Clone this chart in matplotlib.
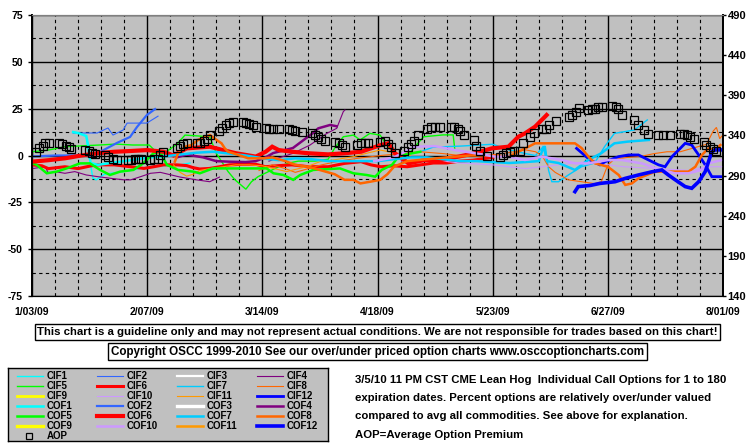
import matplotlib
matplotlib.use('Agg')
import matplotlib.pyplot as plt
from matplotlib.ticker import MultipleLocator, FixedLocator
from matplotlib.lines import Line2D
import numpy as np

nan = float('nan')

# x axis: days after 1/03/09
date_ticks = [0, 35, 70, 105, 140, 175, 210]
date_labels = ['1/03/09', '2/07/09', '3/14/09', '4/18/09', '5/23/09', '6/27/09', '8/01/09']
right_ticks = [140, 190, 240, 290, 340, 390, 440, 490]

# percent over/under valued (left axis), (day, value)
cif1 = [(16.5, 10), (17.5, -2), (18.5, -12), (19.5, -13), (22, -10), (26, -9), (30, -8),
        (34, -6.5), (40, -5.5), (45, -5), (48, -4)]
cif2 = [(12.5, 12), (19.8, 12), (23.1, 14.7), (24.6, 10.9), (27.7, 13.6), (28.9, 17.3),
        (34.9, 17.3), (38.3, 21)]
cif3 = []
cif4 = [(0, -7), (4, -6), (5, -9.5), (7, -8.6), (10, -9.5), (13, -8.6), (16.5, -10.4), (20, -11.3),
        (24, -12.2), (28, -13), (30, -13), (33, -11.3), (36, -9.5), (39, -9), (45, -11.5), (50, -13),
        (54, -14), (57, -11.5), (nan, nan), (72, -3), (79.4, 1.2), (84.5, 5.6), (89.6, 11.8),
        (92.6, 14.5), (94.6, 23.4), (95.1, 24.3)]
cif5 = [(0, 2), (5, 2.9), (10, 4.7), (20.5, 5.6), (25.5, 6.1), (30.6, 5.6), (35.6, 5.6), (37.7, 2),
        (40, 1), (44, 6), (46.5, 10.9), (54, 10), (56, 1.2), (59.6, -8.6), (61.7, -13), (65, -18),
        (66.7, -14), (68.7, -11.3), (70.8, -9.5), (75, -6), (78, -4), (81, -3), (86, -3), (90, -2),
        (92, 4), (94.6, 10), (97.7, 10.9), (99.7, 8.3), (102.7, 11.8), (105.8, 10.9), (108, 5),
        (111, 0), (113, -3), (116, 4), (119, 10), (125, 11), (128, 11), (128.5, 3)]
cif6 = [(0, -5), (3, -5.5), (5, -7), (10, -6), (14, -7), (18, -5.5), (20, -5), (25, -5), (30, -6),
        (34, -6.9), (37, -6), (40, -5), (44, -5), (47, -5.4), (49, -6.5), (51, -7.2), (54, -6.9),
        (57, -6), (60, -5), (64, -4.7), (68, -4.7), (71, -6), (75, -5.4), (79, -5), (84, -6),
        (90, -6), (95, -4.2), (100, -3.3), (103, -5), (106, -6), (110, -5.5), (114, -6), (118, -5),
        (122, -4), (126, -4), (130, -3), (134, -2.5), (138, -1.5), (140, -1)]
cif7 = [(118, 2), (122, 4.5), (130, 5), (135, 5.5), (140, 6), (145, 3), (150, 1), (153, 0), (155, 4),
        (156, 5), (157, -8), (158, -14), (160, -14), (163, -10.4), (167, -6), (171, -4), (174, 4.7),
        (177, 11.8), (183, 13.6), (185, 16.3), (187, 19)]
cif8 = [(69, -8), (73, -5), (77, -7), (80, -9), (84, -7), (88, -5), (92, -3.5), (95, -2.5), (99, -1.5),
        (106, 0), (112, 1), (118, 2), (125, 1), (130, 0), (138, 0), (143, 1), (150, 3), (153, 2),
        (155, 0), (157, -6), (159, -9), (163, -13), (167, -14), (171, -15), (173, -14), (175, -5),
        (177, -2), (181, -1), (185, -0.5), (189, 1), (193, 2), (197, 2), (201, 4), (205, 6), (207, 13),
        (208, 15), (209, 9), (210, 11)]
cif9 = []
cif10 = [(112, -3), (120, -2), (130, -4), (140, -5), (145, -6), (150, -7), (155, -6), (160, -5),
         (165, -4), (170, -3), (175, -5), (180, -6), (185, -6.5), (190, -7), (195, -7.5), (200, -8),
         (205, -6), (210, -6)]
cif11 = [(43, -5), (45, -9), (47, -11), (49, -10), (51, -8), (54, -7), (58, -6), (62, -5), (66, -5),
         (70, -5.5), (73.4, -6.9), (77.4, -8.6), (79.4, -7.7), (83.5, -6), (87.5, -3.3), (91.6, -2.4),
         (97.7, -0.6), (101.7, 1.2), (105.8, 2.9), (110, 1.5), (115, 0)]
cif12 = [(165.5, 3.8), (169.6, -2.4), (172.6, -5), (174.2, -3.3), (178.3, -0.6), (181.3, 0.3),
         (184.3, 0.3), (187.4, -2.4), (190.4, -5), (192.4, -6), (194.5, -0.6), (196.5, 2.9),
         (198.5, 6.5), (200.5, 5.6), (202.6, 0.3), (204.6, -5), (206.6, -11.3), (208.6, -11.3),
         (210, -11.3)]

cof1 = [(12.5, 12.5), (14, 12), (16.5, 10.4), (17.2, 4), (17.8, -4), (20, -5), (24, -4), (28, -3),
        (32, -2), (36, -1), (40, -0.5)]
cof2 = [(0, -0.5), (7, 0), (14, 0), (17.6, -0.3), (20.7, 1.9), (25.8, 6.7), (29.8, 9.9), (31.9, 15.2),
        (34.9, 21.6), (37.4, 24.8)]
cof3 = []
cof4 = [(44, -1), (47, 0.5), (52, -1), (56, -3), (60, -3.3), (65, -3.5), (68, -3), (71, -1),
        (73.3, 1.3), (79.3, 4), (85.4, 12), (87, 14.5), (90.6, 16.3), (92.6, 15.6)]
cof5 = [(0, -4), (1.4, -5), (4.5, -9.5), (7.5, -8.6), (10.5, -6.9), (14.6, -4.2), (17.6, -4.2),
        (20.7, -7.7), (23.7, -10.4), (26.8, -8.6), (30.8, -7.7), (33.8, -4.2), (36.9, 1.2),
        (38.9, 2), (41, -5), (44.4, -7.7), (49, -8.6), (51, -9.5), (55, -6.9), (61, -6.9), (67, -6.9),
        (71.3, -6.9), (73.4, -9.5), (76.4, -10.4), (79.4, -13), (81.5, -10.4), (85.5, -7.7),
        (93.6, -6.9), (97.7, -9.5), (101.7, -10.4), (104.3, -11.3), (106.3, -7.7), (109.4, -5),
        (111.4, -0.6), (113.4, 0.5), (118, 2)]
cof6 = [(0, -3.3), (5, -2.5), (10, -1.5), (15, 0), (20, 1.2), (25, 2), (30, 2.4), (35, 2.9), (40, 2),
        (43, 0), (47, 3.8), (54, 4.7), (58, 2.9), (62, 1.2), (68, -0.6), (71, 2), (73, 4.7), (75, 2.9),
        (79, 2), (84, 1.2), (90, 0.6), (95, 1.2), (100, 2), (103, 3.8), (106, 5.6), (108.3, 6.5),
        (110.3, 1.2), (114.4, -4.2), (119.4, -2.4), (124.5, -2.4), (129.6, -0.6), (134.6, 1.2),
        (139.7, 3.8), (144.8, 4.7), (147.8, 10), (149.8, 11.8), (152.9, 15.4), (155.9, 20.7),
        (156.4, 21.6)]
cof7 = [(40, -0.5), (45, 0.5), (50, 1.5), (55, 2), (60, 1), (65, 0), (70, -1.5), (75, -2.5), (80, -1.5),
        (85, -2), (90, -3), (95, -3), (100, -3), (105, -3), (110, -2), (115, -1), (120, -1), (125, -2),
        (130, -3), (135, -3), (140, -3.5), (145, -4), (150, -3.5), (154, -3), (155.5, 5), (156.5, -3),
        (160, -4), (165, -7.7), (169, -2.4), (173, 1.2), (177, 6.5), (181, 7.4), (187.5, 8.3)]
cof8 = [(43.4, -3.3), (44.4, 1.2), (46.5, 4.7), (48.5, 5.6), (50.5, 8.3), (52.5, 10), (54.1, 10.9),
        (56.1, 8.3), (57.6, 6.5), (58.6, 3.8), (59.6, 2), (62.7, 0.3), (65.7, -1.5), (70.8, -1.5),
        (73, -1), (77, -3), (80, -5), (84, -6), (88, -8), (92, -10), (95, -13), (97.7, -13),
        (99.8, -14.9), (102.8, -14), (105.8, -13), (108, -10), (110, -6), (114, -3), (120, -2),
        (126, -1), (133, 0), (139, 0), (144.8, -0.6), (150.9, 4.7), (152.9, 6.5), (160, 6.5),
        (165, 6.5), (167, 4), (169.1, -0.6), (171.1, -4.2), (175, -6), (178.3, -10.4), (180.3, -15.7),
        (182.3, -14.9), (184.3, -12.2), (189.4, -8.6), (196.5, -8.6), (199.5, -8.6), (201.6, -6),
        (203.6, 0.3), (205.6, 3.8), (207.6, 2.9), (209.2, 5.6)]
cof9 = []
cof10 = [(104, -3), (110, -1), (116.4, 4.7), (122.5, 5), (128.6, 2.9), (134.6, 1.2), (140.7, -0.6),
         (144.8, -0.6), (149.8, -2.4), (154.9, -0.6), (161, -2.4), (165, -4.2), (169.1, -4.2),
         (175.2, -2.4), (179.2, -2.4), (185.3, -4.2), (191.4, -7.7), (195.4, -9.5), (199.5, -9.5),
         (203.5, -7.7), (205.6, -4.2), (209.6, -2.4)]
cof11 = []
cof12 = [(165, -19.3), (166, -16.6), (169.6, -16), (172.6, -14.9), (175.7, -14.3), (177.2, -14),
         (180.3, -12.2), (184.3, -10.4), (188.4, -8.7), (191.4, -7.7), (193.4, -10.4), (195.5, -13),
         (198.5, -16.6), (200.5, -17.5), (202.6, -14), (204.6, -8.6), (205.6, -3.3), (206.6, 2),
         (207.6, 3), (210, 3)]

# average option premium (right axis)
aop = [(1.2, 319.4), (2.1, 324.3), (3.3, 326.8), (4.0, 330.6), (5.2, 330.6), (8.2, 330.6), (9.1, 329.3),
       (10.3, 326.8), (11.2, 325.6), (11.9, 323.1), (16.1, 321.8), (17.3, 320.6), (18.2, 318.1),
       (19.1, 316.9), (22.2, 315.6), (23.1, 313.1), (24.6, 310.6), (25.8, 309.4), (29.2, 309.4),
       (30.1, 309.4), (31.3, 310.6), (32.2, 310.6), (33.1, 310.6), (35.9, 309.4), (37.1, 310.6),
       (38.3, 310.6), (38.9, 315.6), (39.8, 319.4), (44.1, 324.3), (45.0, 326.8), (45.9, 329.3),
       (47.1, 330.6), (50.2, 330.6), (51.1, 330.6), (52.3, 333.1), (53.2, 335.5), (54.1, 340.5),
       (56.8, 345.5), (57.8, 349.2), (59.0, 353.0), (59.9, 355.5), (61.1, 356.7), (64.1, 356.7),
       (65.0, 355.5), (66.0, 354.2), (67.2, 353.0), (68.1, 350.5), (71.1, 349.2), (72.0, 348.0),
       (73.3, 348.0), (75.1, 348.0), (78.1, 348.0), (79.0, 346.8), (79.9, 345.5), (82.1, 344.3),
       (85.1, 343.0), (86.0, 340.5), (86.9, 338.0), (87.8, 335.5), (89.1, 333.1), (92.1, 331.8),
       (93.3, 330.6), (94.2, 328.1), (95.1, 325.6), (98.8, 328.1), (100.0, 330.6), (101.2, 330.6),
       (102.1, 330.6), (105.8, 331.8), (107.3, 333.1), (108.2, 329.3), (109.1, 325.6), (110.3, 318.1),
       (113.1, 320.6), (114.3, 325.6), (115.2, 329.3), (116.1, 333.1), (117.3, 340.5), (120.1, 348.0),
       (121.3, 350.5), (122.5, 350.5), (124.0, 350.5), (127.4, 350.5), (128.3, 350.5), (129.5, 348.0),
       (130.1, 345.5), (131.3, 340.5), (134.3, 334.3), (135.0, 326.8), (136.2, 320.6), (138.3, 314.4),
       (142.2, 313.1), (143.2, 315.6), (144.1, 318.1), (145.3, 319.4), (146.5, 320.6), (148.3, 320.6),
       (149.2, 330.6), (151.4, 338.0), (152.6, 343.0), (155.0, 348.0), (156.2, 348.0), (157.1, 353.0),
       (159.3, 358.0), (163.2, 362.9), (164.1, 365.4), (165.3, 369.2), (166.3, 374.2), (169.0, 371.7),
       (170.2, 372.9), (171.1, 372.9), (172.0, 375.4), (173.3, 375.4), (176.3, 376.7), (177.5, 375.4),
       (178.1, 372.9), (179.3, 365.4), (183.0, 359.2), (184.2, 353.0), (186.0, 346.8), (187.2, 341.8),
       (190.3, 340.5), (191.8, 340.5), (193.9, 340.5), (197.0, 341.8), (198.2, 341.8), (199.1, 340.5),
       (200.0, 338.0), (201.2, 335.5), (204.3, 331.8), (204.9, 328.1), (206.1, 325.6), (207.0, 323.1),
       (207.9, 320.6)]

series = {'CIF1': cif1, 'CIF2': cif2, 'CIF3': cif3, 'CIF4': cif4, 'CIF5': cif5, 'CIF6': cif6,
          'CIF7': cif7, 'CIF8': cif8, 'CIF9': cif9, 'CIF10': cif10, 'CIF11': cif11, 'CIF12': cif12,
          'COF1': cof1, 'COF2': cof2, 'COF3': cof3, 'COF4': cof4, 'COF5': cof5, 'COF6': cof6,
          'COF7': cof7, 'COF8': cof8, 'COF9': cof9, 'COF10': cof10, 'COF11': cof11, 'COF12': cof12}

base_colors = ['#00FFFF', '#3366FF', '#FFFFFF', '#800080', '#00FF00', '#FF0000',
               '#00CCFF', '#FF6600', '#FFFF00', '#CC99FF', '#FF9900', '#0000FF']
cif_widths = [1.0, 0.8, 1.6, 0.8, 1.0, 2.2, 1.0, 0.8, 2.0, 0.8, 0.8, 2.0]
cof_widths = [1.8, 1.6, 2.4, 1.8, 1.8, 3.0, 1.8, 1.8, 2.4, 1.8, 1.8, 2.6]

style = {}
for i in range(12):
    style['CIF%d' % (i + 1)] = (base_colors[i], cif_widths[i])
    style['COF%d' % (i + 1)] = (base_colors[i], cof_widths[i])

BOLD = dict(family=['Liberation Sans', 'DejaVu Sans'], weight='bold')

fig = plt.figure(figsize=(7.55, 4.46), dpi=100)
W, H = 755, 446
ax = fig.add_axes([32 / W, 1 - 296 / H, 691 / W, 281 / H])
ax.set_facecolor('#C0C0C0')
ax.set_xlim(0, 210)
ax.set_ylim(-75, 75)
ax.xaxis.set_major_locator(FixedLocator(date_ticks))
ax.xaxis.set_minor_locator(MultipleLocator(7))
ax.yaxis.set_major_locator(MultipleLocator(25))
ax.yaxis.set_minor_locator(MultipleLocator(12.5))
ax.grid(which='major', color='black', lw=1.0, ls='-')
ax.grid(which='minor', color='black', lw=0.8, ls=(0, (3, 3)))
ax.set_axisbelow(True)

for name, pts in series.items():
    if not pts:
        continue
    d = np.array([p[0] for p in pts], dtype=float)
    v = np.array([p[1] for p in pts], dtype=float)
    c, lw = style[name]
    ax.plot(d, v, color=c, lw=lw, solid_joinstyle='miter', zorder=3)

ax.set_xticklabels(date_labels, fontsize=7.5, **BOLD)
ax.set_yticks([-75, -50, -25, 0, 25, 50, 75])
ax.set_yticklabels(['-75', '-50', '-25', '0', '25', '50', '75'], fontsize=7.5, **BOLD)
ax.tick_params(axis='x', which='both', length=0, pad=8)
ax.tick_params(axis='y', which='major', length=3, width=1, direction='out', pad=3.5)
ax.tick_params(axis='y', which='minor', length=0)

ax2 = ax.twinx()
ax2.set_ylim(140, 490)
ax2.set_yticks(right_ticks)
ax2.set_yticklabels([str(t) for t in right_ticks], fontsize=8, **BOLD)
ax2.tick_params(axis='y', length=2.5, width=1, direction='out', pad=0.8)
ax2.plot([p[0] for p in aop], [p[1] for p in aop], ls='none', marker='s', ms=5.2,
         mfc='none', mec='black', mew=0.9, zorder=4)

for a in (ax, ax2):
    a.spines['top'].set_color('#808080')
    a.spines['left'].set_color('black')
    a.spines['left'].set_linewidth(1.3)
    a.spines['right'].set_color('black')
    a.spines['right'].set_linewidth(1.3)
    a.spines['bottom'].set_color('black')

# notes under the chart
box = dict(boxstyle='square,pad=0.22', fc='white', ec='black', lw=1)
fig.text(0.5, 1 - 332 / H, 'This chart is a guideline only and may not represent actual conditions. '
         'We are not responsible for trades based on this chart!',
         ha='center', va='center', fontsize=8.2, bbox=box, **BOLD)
fig.text(0.5, 1 - 351.5 / H, 'Copyright OSCC 1999-2010 See our over/under priced option charts '
         'www.osccoptioncharts.com', ha='center', va='center', fontsize=8.4, bbox=box, **BOLD)

note_lines = ['3/5/10 11 PM CST CME Lean Hog  Individual Call Options for 1 to 180',
              'expiration dates. Percent options are relatively over/under valued',
              'compared to avg all commodities. See above for explanation.',
              'AOP=Average Option Premium']
for i, line in enumerate(note_lines):
    fig.text(355 / W, 1 - (380 + 18.2 * i) / H, line, ha='left', va='center', fontsize=8.2, **BOLD)

# legend box, laid out row by row like the original
lax = fig.add_axes([8 / W, 1 - 441 / H, 320 / W, 73 / H])
lax.set_facecolor('#C0C0C0')
lax.set_xlim(0, 320)
lax.set_ylim(73, 0)
lax.set_xticks([])
lax.set_yticks([])
for s in lax.spines.values():
    s.set_color('black')
    s.set_linewidth(1)

legend_names = ['CIF%d' % i for i in range(1, 13)] + ['COF%d' % i for i in range(1, 13)]
for k, name in enumerate(legend_names):
    r, c = divmod(k, 4)
    y = 8 + 10 * r
    x0 = 9 + 80 * c
    color, lw = style[name]
    lax.add_line(Line2D([x0, x0 + 26], [y, y], color=color, lw=lw))
    lax.text(x0 + 29.5, y, name, ha='left', va='center', fontsize=7, **BOLD)
lax.plot([21], [68], ls='none', marker='s', ms=4, mfc='none', mec='black', mew=0.9)
lax.text(38.5, 68, 'AOP', ha='left', va='center', fontsize=7, **BOLD)

fig.savefig('out.png', dpi=100, facecolor='white')
